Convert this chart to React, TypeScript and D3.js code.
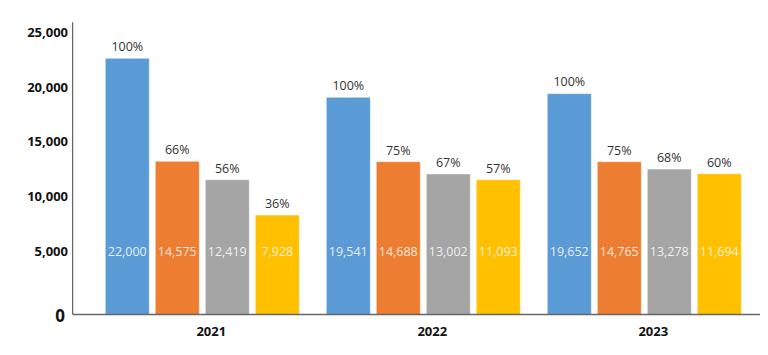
import * as d3 from "d3";
import { useRef, useEffect } from "react";

// categories and series
const years = ["2021", "2022", "2023"];
const seriesNames = ["A", "B", "C", "D"];
const seriesColors = ["#5B9BD5", "#ED7D31", "#A5A5A5", "#FFC000"];

// value labels shown inside bars
const labels2021 = [22000, 14575, 12419, 7928];
const labels2022 = [19541, 14688, 13002, 11093];
const labels2023 = [19652, 14765, 13278, 11694];

// percentage labels above bars
const pct2021 = [100, 66, 56, 36];
const pct2022 = [100, 75, 67, 57];
const pct2023 = [100, 75, 68, 60];

// bar heights as drawn in the picture (read against the axis)
const bars2021 = [22640, 13210, 11520, 8290];
const bars2022 = [19070, 13170, 12050, 11520];
const bars2023 = [19400, 13170, 12500, 12070];

// y tick labels
const yTicks = [5000, 10000, 15000, 20000, 25000];

export default function App() {
    const svgRef = useRef<SVGSVGElement>(null);

    useEffect(() => {
        document.body.style.margin = "0";
        const svg = d3.select(svgRef.current);
        svg.selectAll("*").remove();

        const font = "'Open Sans', sans-serif";
        const baseline = 314.5;

        const labelRows = [labels2021, labels2022, labels2023];
        const pctRows = [pct2021, pct2022, pct2023];
        const barRows = [bars2021, bars2022, bars2023];

        const data = years.map((yr, i) => ({
            year: yr,
            items: seriesNames.map((s, j) => ({
                series: s,
                label: labelRows[i][j],
                pct: pctRows[i][j],
                bar: barRows[i][j],
                color: seriesColors[j],
            })),
        }));

        // scales
        const x0 = d3.scaleBand().domain(years).range([91.8, 754.8]);
        const groupWidth = 194;
        const x1 = d3.scaleBand().domain(seriesNames).range([0, groupWidth]).paddingInner(0.12);
        const y = d3.scaleLinear().domain([0, 25000]).range([305.6, 32.5]);

        const fmt = d3.format(",");

        // y tick labels
        svg.append("g").selectAll("text").data(yTicks).enter().append("text")
            .attr("x", 68).attr("y", d => y(d)).attr("dy", "0.35em")
            .attr("text-anchor", "end").style("font-family", font).style("font-size", "13px")
            .style("font-weight", "700").attr("fill", "#111").text(d => fmt(d));

        svg.append("text").attr("x", 65).attr("y", baseline + 1.5).attr("dy", "0.35em")
            .attr("text-anchor", "end").style("font-family", font).style("font-size", "17px")
            .style("font-weight", "700").attr("fill", "#111").text("0");

        // groups
        const g = svg.append("g").selectAll("g").data(data).enter().append("g")
            .attr("transform", d => `translate(${(x0(d.year) as number) + (x0.bandwidth() - groupWidth) / 2},0)`);

        g.selectAll("rect").data(d => d.items).enter().append("rect")
            .attr("x", d => x1(d.series) as number).attr("y", d => y(d.bar))
            .attr("width", x1.bandwidth()).attr("height", d => baseline - y(d.bar))
            .attr("fill", d => d.color).attr("stroke", "rgba(255,255,255,0.45)").attr("stroke-width", 1);

        g.selectAll("text.pct").data(d => d.items).enter().append("text").attr("class", "pct")
            .attr("x", d => (x1(d.series) as number) + x1.bandwidth() / 2).attr("y", d => y(d.bar) - 11.6)
            .attr("dy", "0.35em").attr("text-anchor", "middle").style("font-family", font)
            .style("font-size", "12.5px").attr("fill", "#333").text(d => `${d.pct}%`);

        g.selectAll("text.val").data(d => d.items).enter().append("text").attr("class", "val")
            .attr("x", d => (x1(d.series) as number) + x1.bandwidth() / 2).attr("y", y(5000) + 0.7)
            .attr("dy", "0.35em").attr("text-anchor", "middle").style("font-family", font)
            .style("font-size", "12.5px").attr("fill", "rgba(255,255,255,0.85)").text(d => fmt(d.label));

        // category labels
        svg.append("g").selectAll("text").data(years).enter().append("text")
            .attr("x", d => (x0(d) as number) + x0.bandwidth() / 2 + 9).attr("y", 331.7).attr("dy", "0.35em")
            .attr("text-anchor", "middle").style("font-family", font).style("font-size", "13px")
            .style("font-weight", "700").attr("fill", "#111").text(d => d);

        // axis lines
        svg.append("line").attr("x1", 72.7).attr("x2", 72.7).attr("y1", 22.3).attr("y2", baseline)
            .attr("stroke", "#444").attr("stroke-width", 1);
        svg.append("line").attr("x1", 72.7).attr("x2", 760).attr("y1", baseline).attr("y2", baseline)
            .attr("stroke", "#666").attr("stroke-width", 1.5);
    }, []);

    return <svg ref={svgRef} width={768} height={355} style={{ display: "block" }} />;
}
